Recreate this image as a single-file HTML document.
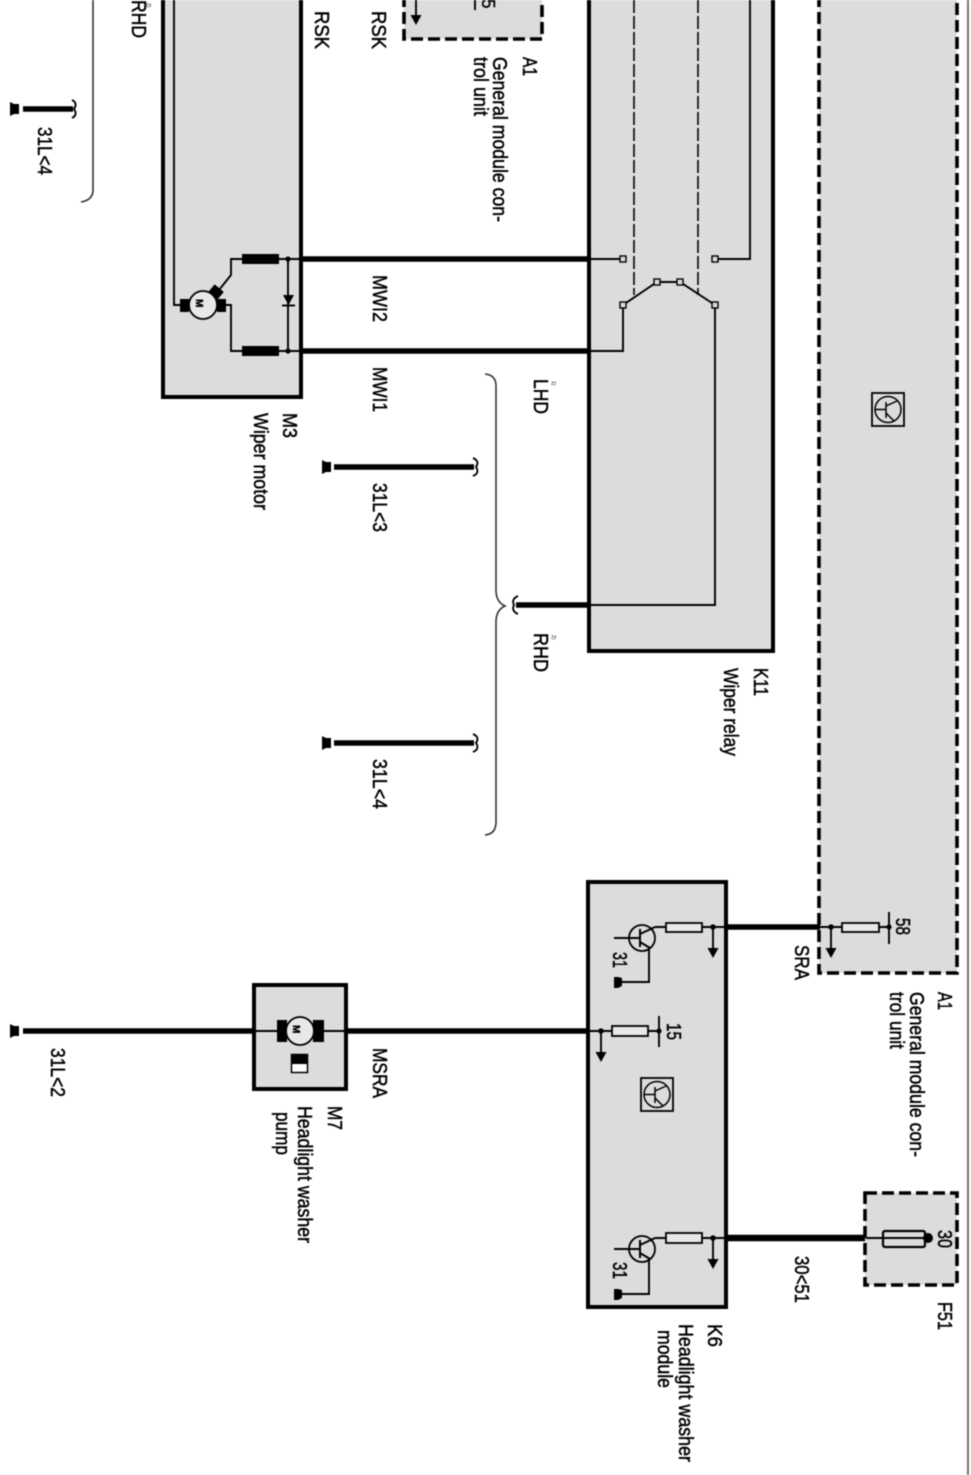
<!DOCTYPE html>
<html>
<head>
<meta charset="utf-8">
<style>
html,body{margin:0;padding:0;background:#fff;}
svg{display:block;filter:blur(0.5px);}
text{font-family:"Liberation Sans",sans-serif;font-size:17px;fill:#000;stroke:#000;stroke-width:.4px;}
.s{font-size:5px;stroke:none;}
.box{fill:#dcdcdc;stroke:#000;stroke-width:4;}
.dash{fill:#dcdcdc;stroke:#000;stroke-width:3.6;stroke-dasharray:12 5;}
.th{fill:none;stroke:#000;stroke-width:5.5;}
.w{fill:none;stroke:#000;stroke-width:1.9;}
.c{fill:#dcdcdc;stroke:#000;stroke-width:1.4;}
.r{fill:#e8e8e8;stroke:#000;stroke-width:1.8;}
.g{fill:none;stroke:#333;stroke-width:1.6;}
</style>
</head>
<body>
<svg width="971" height="1475" viewBox="0 0 971 1475" xmlns="http://www.w3.org/2000/svg">
<defs>
<g id="gnd"><path d="M0,-7 L0,7 L4,5 H9 V-5 H4Z" fill="#000"/></g>
<g id="ico">
<rect x="0" y="0" width="32" height="33" fill="#dcdcdc" stroke="#000" stroke-width="1.8"/>
<circle cx="16" cy="16.5" r="13" fill="none" stroke="#000" stroke-width="1.5"/>
<path d="M3,16.5H14M14,9V25M14,13L25,8M14,20L22,28" fill="none" stroke="#000" stroke-width="1.5"/>
</g>
<g id="tr">
<circle cx="0" cy="0" r="13" fill="none" stroke="#000" stroke-width="1.8"/>
<path d="M-28,0H-2M-2,-9V9M-2,-4L13,-11M-2,4L8,10" fill="none" stroke="#000" stroke-width="2"/>
</g>
<g id="dn"><path d="M0,0V21" stroke="#000" stroke-width="1.9" fill="none"/><path d="M-5.5,21H5.5L0,31Z" fill="#000"/><circle cx="0" cy="0" r="2.8" fill="#000"/></g>
</defs>

<!-- boxes -->
<path d="M163,-5V397H301V-5" class="box"/>
<path d="M589,-5V651H773V-5" class="box"/>
<path d="M404,-5V39H542V-5" class="dash"/>
<path d="M819,-5V973H957V-5" class="dash"/>
<rect x="588" y="882" width="138" height="425" class="box"/>
<rect x="254" y="985" width="92" height="104" class="box"/>
<rect x="865" y="1193" width="92" height="92" class="dash"/>
<line x1="968" y1="0" x2="968" y2="1475" stroke="#666" stroke-width="1.8"/>

<!-- top left bracket and ground -->
<path d="M93,0V190Q93,200 81,202" class="g"/>
<use href="#gnd" x="10" y="109"/>
<path d="M23,109H73" class="th"/>
<path d="M72,100Q78,103 74,109Q78,115 72,118" class="w"/>

<!-- wiper motor -->
<path d="M174,-5V305H181" class="w"/>
<circle cx="203" cy="305" r="14" fill="#e8e8e8" stroke="#000" stroke-width="1.8"/>
<rect x="180" y="299" width="9" height="13" fill="#000"/>
<rect x="217" y="299" width="9" height="13" fill="#000"/>
<rect x="210" y="287" width="12" height="10" fill="#000" transform="rotate(40 216 292)"/>
<path d="M226,305H231V351H242M219,290L231,275V259H242" class="w"/>
<rect x="242" y="254" width="37" height="10" fill="#000"/>
<rect x="242" y="346" width="37" height="10" fill="#000"/>
<path d="M279,259H301M279,351H301M288,259V351" class="w"/>
<circle cx="288" cy="259" r="2.6"/>
<circle cx="288" cy="351" r="2.6"/>
<path d="M283,295H294L288.5,305Z" fill="#000"/>
<path d="M282,305.5H295" class="w"/>
<path d="M301,259H589M301,351H589" class="th"/>

<!-- wiper relay -->
<path d="M634,0V295M698,0V295" fill="none" stroke="#000" stroke-width="1.6" stroke-dasharray="13 3"/>
<path d="M590,259H620M718,259H750V-5" class="w"/>
<path d="M623,305L657,282H680L715,305" class="w"/>
<path d="M623,305V351H590M715,305V605H590" class="w"/>
<rect x="620" y="256" width="6" height="6" class="c"/>
<rect x="712" y="256" width="6" height="6" class="c"/>
<rect x="620" y="302" width="6" height="6" class="c"/>
<rect x="654" y="279" width="6" height="6" class="c"/>
<rect x="677" y="279" width="6" height="6" class="c"/>
<rect x="712" y="302" width="6" height="6" class="c"/>
<path d="M516,605H589" class="th"/>
<path d="M518,596Q511,599 514,605Q511,611 518,614" class="w"/>

<!-- brace -->
<path d="M485,374Q496,375 496,386V590Q496,602 505,606Q496,610 496,622V822Q496,834 485,835" class="g"/>

<!-- grounds -->
<use href="#gnd" x="322" y="467"/>
<path d="M334,467H474" class="th"/>
<path d="M473,458Q480,461 476,467Q480,473 473,476" class="w"/>
<use href="#gnd" x="322" y="743"/>
<path d="M334,743H474" class="th"/>
<path d="M473,734Q480,737 476,743Q480,749 473,752" class="w"/>

<!-- top small A1 -->
<path d="M416,-5V15" class="w"/>
<path d="M410.5,15H421.5L416,25Z" fill="#000"/>
<path d="M475,0V10" class="w"/>

<!-- big A1 icon -->
<use href="#ico" x="872" y="393"/>

<!-- K6 upper -->
<use href="#tr" x="642" y="938"/>
<path d="M655,927H726" class="w"/>
<path d="M649,948V982H620" class="w"/>
<path d="M614,977V988H618L622,986V978L618,977Z" fill="#000"/>
<rect x="666" y="923" width="36" height="9" class="r"/>
<use href="#dn" x="713" y="927"/>
<path d="M727,927H820" class="th"/>
<path d="M820,927H889M889,912V944" class="w"/>
<use href="#dn" x="831" y="927"/>
<rect x="842" y="923" width="37" height="9" class="r"/>
<circle cx="889" cy="927" r="2.6"/>

<!-- K6 middle -->
<path d="M590,1031H659M659,1016V1047" class="w"/>
<use href="#dn" x="601" y="1031"/>
<rect x="612" y="1026" width="36" height="10" class="r"/>
<circle cx="659" cy="1031" r="2.6"/>
<use href="#ico" x="641" y="1078"/>

<!-- K6 lower -->
<use href="#tr" x="642" y="1249"/>
<path d="M655,1238H726" class="w"/>
<path d="M649,1259V1294H620" class="w"/>
<path d="M614,1289V1300H618L622,1298V1290L618,1289Z" fill="#000"/>
<rect x="666" y="1233" width="36" height="10" class="r"/>
<use href="#dn" x="713" y="1238"/>
<path d="M727,1238H865" fill="none" stroke="#000" stroke-width="6.5"/>

<!-- F51 -->
<path d="M866,1238H928" class="w"/>
<rect x="883" y="1231" width="42" height="16" rx="2" fill="none" stroke="#000" stroke-width="2.2"/>
<circle cx="928" cy="1238" r="5" fill="#000"/>

<!-- M7 -->
<use href="#gnd" x="10" y="1031"/>
<path d="M23,1031H254M346,1031H588" class="th"/>
<path d="M256,1031H277M323,1031H344" class="w"/>
<circle cx="300" cy="1031" r="14" fill="#e8e8e8" stroke="#000" stroke-width="1.8"/>
<rect x="277" y="1020" width="10" height="22" fill="#000"/>
<rect x="313" y="1020" width="11" height="22" fill="#000"/>
<rect x="291.5" y="1054.5" width="16" height="18" fill="#fff" stroke="#000" stroke-width="1.5"/>
<rect x="291" y="1054" width="17" height="10" fill="#000"/>

<!-- labels -->
<text transform="translate(196,299) rotate(90)" style="font-size:10px;font-weight:bold">M</text>
<text transform="translate(293,1025) rotate(90)" style="font-size:10px;font-weight:bold">M</text>

<text transform="translate(132,0) rotate(90) scale(1,1.2)" textLength="38" lengthAdjust="spacingAndGlyphs">RHD</text>
<text class="s" transform="translate(147,3) rotate(90)">2)</text>
<text transform="translate(315,11) rotate(90) scale(1,1.2)" textLength="38" lengthAdjust="spacingAndGlyphs">RSK</text>
<text transform="translate(372,11) rotate(90) scale(1,1.2)" textLength="38" lengthAdjust="spacingAndGlyphs">RSK</text>
<text transform="translate(482,-1) rotate(90) scale(1,1.1)">5</text>
<text transform="translate(523,57) rotate(90) scale(1,1.2)" textLength="19" lengthAdjust="spacingAndGlyphs">A1</text>
<text transform="translate(493,57) rotate(90) scale(1,1.2)" textLength="165" lengthAdjust="spacingAndGlyphs">General module con-</text>
<text transform="translate(474,57) rotate(90) scale(1,1.2)" textLength="59" lengthAdjust="spacingAndGlyphs">trol unit</text>
<text transform="translate(38,127) rotate(90) scale(1,1.2)" textLength="48" lengthAdjust="spacingAndGlyphs">31L&lt;4</text>
<text transform="translate(283,413) rotate(90) scale(1,1.2)" textLength="25" lengthAdjust="spacingAndGlyphs">M3</text>
<text transform="translate(254,413) rotate(90) scale(1,1.2)" textLength="97" lengthAdjust="spacingAndGlyphs">Wiper motor</text>
<text transform="translate(373,275) rotate(90) scale(1,1.2)" textLength="47" lengthAdjust="spacingAndGlyphs">MWI2</text>
<text transform="translate(373,367) rotate(90) scale(1,1.2)" textLength="45" lengthAdjust="spacingAndGlyphs">MWI1</text>
<text transform="translate(373,483) rotate(90) scale(1,1.2)" textLength="49" lengthAdjust="spacingAndGlyphs">31L&lt;3</text>
<text transform="translate(373,759) rotate(90) scale(1,1.2)" textLength="50" lengthAdjust="spacingAndGlyphs">31L&lt;4</text>
<text transform="translate(534,379) rotate(90) scale(1,1.2)" textLength="35" lengthAdjust="spacingAndGlyphs">LHD</text>
<text class="s" transform="translate(552,381) rotate(90)">1)</text>
<text transform="translate(534,633) rotate(90) scale(1,1.2)" textLength="39" lengthAdjust="spacingAndGlyphs">RHD</text>
<text class="s" transform="translate(552,635) rotate(90)">2)</text>
<text transform="translate(754,668) rotate(90) scale(1,1.2)" textLength="28" lengthAdjust="spacingAndGlyphs">K11</text>
<text transform="translate(724,668) rotate(90) scale(1,1.2)" textLength="88" lengthAdjust="spacingAndGlyphs">Wiper relay</text>
<text transform="translate(613,952) rotate(90) scale(1,1.2)" textLength="16" lengthAdjust="spacingAndGlyphs">31</text>
<text transform="translate(667,1023) rotate(90) scale(1,1.2)" textLength="17" lengthAdjust="spacingAndGlyphs">15</text>
<text transform="translate(896,918) rotate(90) scale(1,1.2)" textLength="17" lengthAdjust="spacingAndGlyphs">58</text>
<text transform="translate(795,945) rotate(90) scale(1,1.2)" textLength="35" lengthAdjust="spacingAndGlyphs">SRA</text>
<text transform="translate(938,992) rotate(90) scale(1,1.2)" textLength="18" lengthAdjust="spacingAndGlyphs">A1</text>
<text transform="translate(910,992) rotate(90) scale(1,1.2)" textLength="165" lengthAdjust="spacingAndGlyphs">General module con-</text>
<text transform="translate(890,992) rotate(90) scale(1,1.2)" textLength="57" lengthAdjust="spacingAndGlyphs">trol unit</text>
<text transform="translate(795,1256) rotate(90) scale(1,1.2)" textLength="47" lengthAdjust="spacingAndGlyphs">30&lt;51</text>
<text transform="translate(938,1302) rotate(90) scale(1,1.2)" textLength="28" lengthAdjust="spacingAndGlyphs">F51</text>
<text transform="translate(938,1230) rotate(90) scale(1,1.2)" textLength="18" lengthAdjust="spacingAndGlyphs">30</text>
<text transform="translate(613,1262) rotate(90) scale(1,1.2)" textLength="17" lengthAdjust="spacingAndGlyphs">31</text>
<text transform="translate(708,1324) rotate(90) scale(1,1.2)" textLength="23" lengthAdjust="spacingAndGlyphs">K6</text>
<text transform="translate(679,1324) rotate(90) scale(1,1.2)" textLength="138" lengthAdjust="spacingAndGlyphs">Headlight washer</text>
<text transform="translate(658,1330) rotate(90) scale(1,1.2)" textLength="58" lengthAdjust="spacingAndGlyphs">module</text>
<text transform="translate(51,1048) rotate(90) scale(1,1.2)" textLength="49" lengthAdjust="spacingAndGlyphs">31L&lt;2</text>
<text transform="translate(373,1048) rotate(90) scale(1,1.2)" textLength="50" lengthAdjust="spacingAndGlyphs">MSRA</text>
<text transform="translate(328,1106) rotate(90) scale(1,1.2)" textLength="24" lengthAdjust="spacingAndGlyphs">M7</text>
<text transform="translate(298,1106) rotate(90) scale(1,1.2)" textLength="137" lengthAdjust="spacingAndGlyphs">Headlight washer</text>
<text transform="translate(276,1112) rotate(90) scale(1,1.2)" textLength="43" lengthAdjust="spacingAndGlyphs">pump</text>
</svg>
</body>
</html>
